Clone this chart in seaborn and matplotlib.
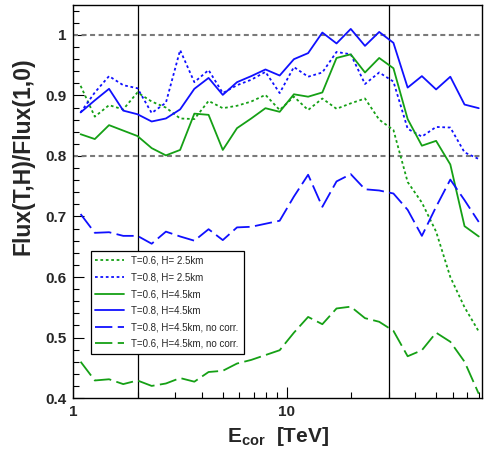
import pandas as pd
import seaborn as sns
import matplotlib.pyplot as plt
from matplotlib.ticker import FixedLocator, NullFormatter

# energy bin centres [TeV] (15 bins per decade)
e_cor = [1.080, 1.259, 1.468, 1.711, 1.995, 2.326, 2.712, 3.162, 3.687, 4.299,
         5.012, 5.843, 6.813, 7.943, 9.261, 10.80, 12.59, 14.68, 17.11, 19.95,
         23.26, 27.12, 31.62, 36.87, 42.99, 50.12, 58.43, 68.13, 79.43]

t06_h25 = [0.916, 0.865, 0.884, 0.877, 0.905, 0.890, 0.880, 0.862, 0.861, 0.891,
           0.879, 0.883, 0.890, 0.901, 0.876, 0.898, 0.876, 0.895, 0.878, 0.887,
           0.895, 0.860, 0.843, 0.757, 0.723, 0.675, 0.600, 0.550, 0.510]
t08_h25 = [0.872, 0.905, 0.932, 0.917, 0.912, 0.871, 0.888, 0.975, 0.922, 0.942,
           0.904, 0.917, 0.926, 0.939, 0.904, 0.947, 0.931, 0.938, 0.972, 0.968,
           0.919, 0.938, 0.923, 0.845, 0.832, 0.848, 0.847, 0.806, 0.795]
t06_h45 = [0.836, 0.828, 0.851, 0.842, 0.833, 0.813, 0.801, 0.810, 0.870, 0.868,
           0.810, 0.846, 0.862, 0.879, 0.873, 0.902, 0.898, 0.905, 0.962, 0.968,
           0.938, 0.962, 0.945, 0.861, 0.817, 0.825, 0.786, 0.684, 0.667]
t08_h45 = [0.872, 0.892, 0.911, 0.875, 0.869, 0.857, 0.862, 0.877, 0.911, 0.929,
           0.901, 0.922, 0.932, 0.943, 0.933, 0.960, 0.970, 1.004, 0.986, 1.010,
           0.982, 1.005, 0.987, 0.913, 0.932, 0.910, 0.931, 0.885, 0.879]
t08_h45_nc = [0.704, 0.673, 0.674, 0.668, 0.668, 0.655, 0.675, 0.667, 0.660, 0.679,
              0.661, 0.682, 0.683, 0.688, 0.693, 0.733, 0.769, 0.716, 0.758, 0.770,
              0.745, 0.743, 0.738, 0.711, 0.668, 0.716, 0.761, 0.727, 0.691]
t06_h45_nc = [0.460, 0.429, 0.431, 0.423, 0.429, 0.420, 0.424, 0.433, 0.427, 0.443,
              0.445, 0.457, 0.463, 0.471, 0.479, 0.508, 0.534, 0.522, 0.548, 0.551,
              0.532, 0.526, 0.511, 0.469, 0.479, 0.508, 0.493, 0.460, 0.407]

labels = ["T=0.6, H= 2.5km", "T=0.8, H= 2.5km", "T=0.6, H=4.5km",
          "T=0.8, H=4.5km", "T=0.8, H=4.5km, no corr.", "T=0.6, H=4.5km, no corr."]
series = [t06_h25, t08_h25, t06_h45, t08_h45, t08_h45_nc, t06_h45_nc]

y_ticks = [0.4, 0.5, 0.6, 0.7, 0.8, 0.9, 1.0]
y_ticklabels = ["0.4", "0.5", "0.6", "0.7", "0.8", "0.9", "1"]
x_ticks = [1, 10]
x_ticklabels = ["1", "10"]
ref_levels = [0.8, 1.0]
cut_energies = [2, 30]

green = "#15a015"
blue = "#1010ff"
palette = dict(zip(labels, [green, blue, green, blue, blue, green]))
dots = (1.5, 1.5)
longdash = (9.6, 3.0)
dashes = dict(zip(labels, [dots, dots, "", "", longdash, longdash]))

df = pd.concat([pd.DataFrame({"E": e_cor, "ratio": v, "label": lab})
                for lab, v in zip(labels, series)], ignore_index=True)

sns.set_style("ticks")
plt.rcParams["font.family"] = ["Liberation Sans", "DejaVu Sans"]
plt.rcParams["mathtext.fontset"] = "custom"
plt.rcParams["mathtext.bf"] = "Liberation Sans:bold"
plt.rcParams["mathtext.rm"] = "Liberation Sans:bold"
plt.rcParams["mathtext.default"] = "bf"

fig = plt.figure(figsize=(4.85, 4.54), dpi=100)
ax = fig.add_axes([0.1515, 0.1233, 0.8417, 0.8663])

for lv in ref_levels:
    ax.axhline(lv, color="#7a7a7a", lw=1.5, linestyle=(0, (2.4, 1.7)), zorder=1)
for e in cut_energies:
    ax.axvline(e, color="black", lw=0.9, zorder=1)

sns.lineplot(data=df, x="E", y="ratio", hue="label", style="label",
             hue_order=labels, style_order=labels, palette=palette,
             dashes=dashes, linewidth=1.3, estimator=None, ax=ax)

ax.set_xscale("log")
ax.set_xlim(1, 82)
ax.set_ylim(0.4, 1.05)

ax.xaxis.set_major_locator(FixedLocator(x_ticks))
ax.set_xticklabels(x_ticklabels)
ax.xaxis.set_minor_locator(FixedLocator([2, 3, 4, 5, 6, 7, 8, 9, 20, 30, 40, 50, 60, 70, 80]))
ax.xaxis.set_minor_formatter(NullFormatter())
ax.set_yticks(y_ticks)
ax.set_yticklabels(y_ticklabels)
ax.yaxis.set_minor_locator(FixedLocator([0.4 + 0.02 * i for i in range(33)]))

ax.tick_params(which="both", direction="in", top=False, right=False,
               labelsize=11, width=0.8, color="black")
ax.tick_params(which="major", length=8, pad=5)
ax.tick_params(which="minor", length=4)
for lab in ax.get_xticklabels() + ax.get_yticklabels():
    lab.set_fontweight("bold")
for sp in ax.spines.values():
    sp.set_linewidth(1.0)
    sp.set_color("black")

ax.set_xlabel(r"$E_{cor}$  [TeV]", fontsize=15, fontweight="bold")
ax.xaxis.set_label_coords(0.5, -0.068)
ax.set_ylabel("Flux(T,H)/Flux(1,0)", fontsize=16.5, fontweight="bold")
ax.yaxis.set_label_coords(-0.095, 0.615)

handles, labs = ax.get_legend_handles_labels()
hmap = dict(zip(labs, handles))
hs = [hmap[l] for l in labels]
for h in hs:
    h.set_linewidth(1.3)
leg = ax.legend(hs, labels, loc="upper left", bbox_to_anchor=(0.042, 0.374),
                borderaxespad=0, fontsize=7, handlelength=2.9,
                handletextpad=0.8, labelspacing=0.68, borderpad=0.5,
                fancybox=False, framealpha=1, edgecolor="black")
leg.get_frame().set_linewidth(0.9)

fig.savefig("out.png", dpi=100)
